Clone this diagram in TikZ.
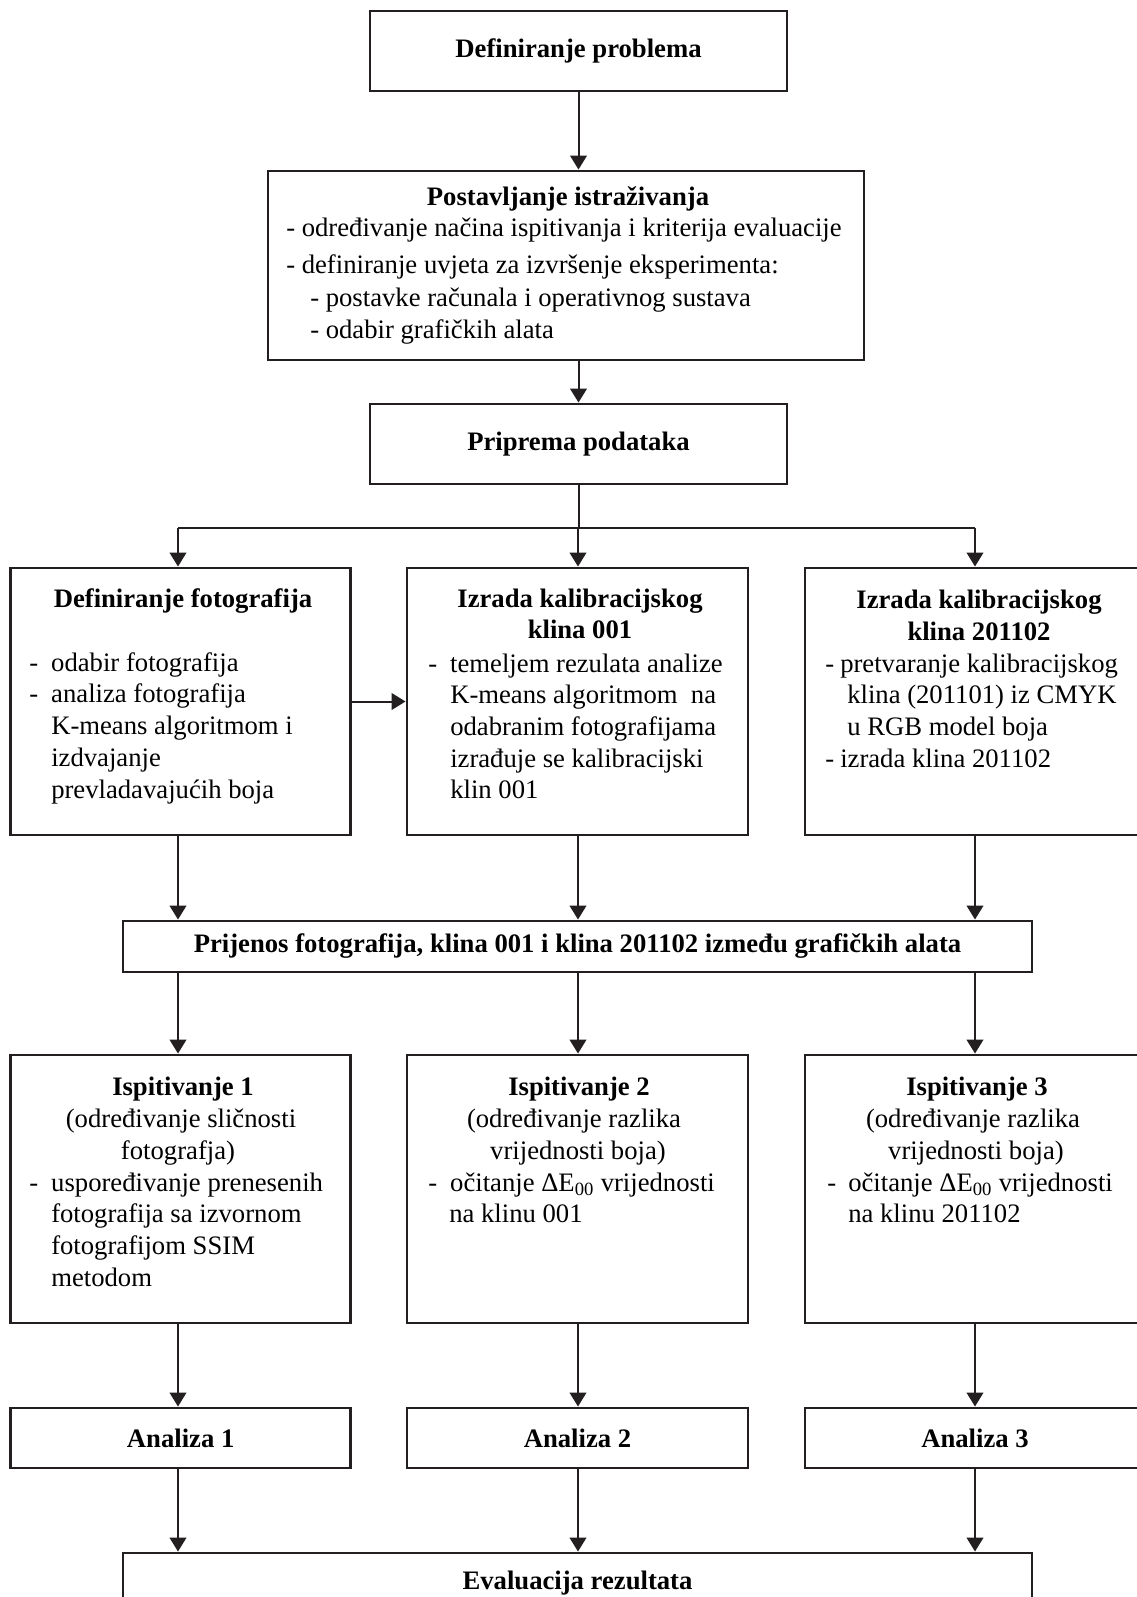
\documentclass[tikz,border=0pt]{standalone}
\usepackage{fontspec}
\setmainfont{Liberation Serif}
\usetikzlibrary{arrows.meta}
\definecolor{ink}{RGB}{35,31,32}
\tikzset{
  box/.style={draw=ink, line width=2.2pt, rectangle, inner sep=0pt, fill=white,
    font=\fontsize{20}{24}\selectfont\bfseries},
  conn/.style={draw=ink, line width=1.5pt},
  arr/.style={conn, -{Triangle[length=10.5pt,width=12.5pt]}},
  txt/.style={inner sep=0pt, font=\fontsize{20}{24}\selectfont, text=black},
  ttl/.style={inner sep=0pt, font=\fontsize{20}{24}\selectfont\bfseries, text=black},
}
\newcommand\txl[4]{\node[txt,anchor=base west] (#1) at (#2,#3) {#4};}
\newcommand\txc[4]{\node[txt,anchor=base] (#1) at (#2,#3) {#4};}
\newcommand\ttc[4]{\node[ttl,anchor=base] (#1) at (#2,#3) {#4};}
\newcommand\dsh[1]{\makebox[#1][l]{-}}
\begin{document}
\begin{tikzpicture}[x=0.75pt,y=-0.75pt]
\useasboundingbox (0,0) rectangle (1137,1597);
\clip (0,0) rectangle (1137,1597);
\fill[white] (0,0) rectangle (1137,1597);

% boxes
\node[box, minimum width=312.75pt, minimum height=60pt] (b1) at (578.5,51) {Definiranje problema};
\node[box, minimum width=447pt, minimum height=141.75pt] (b2) at (566,265.5) {};
\node[box, minimum width=312.75pt, minimum height=60pt] (b3) at (578.5,444) {Priprema podataka};

\node[box, minimum width=255pt, minimum height=200.25pt] (c1) at (180.7,701.5) {};
\node[box, minimum width=255.75pt, minimum height=200.25pt] (c2) at (577.5,701.5) {};
\node[box, minimum width=255pt, minimum height=200.25pt] (c3) at (975,701.5) {};

\node[box, minimum width=681.75pt, minimum height=38.25pt] (p) at (577.5,946.5) {Prijenos fotografija, klina 001 i klina 201102 između grafičkih alata};

\node[box, minimum width=255pt, minimum height=201pt] (d1) at (180.7,1189) {};
\node[box, minimum width=255.75pt, minimum height=201pt] (d2) at (577.5,1189) {};
\node[box, minimum width=255pt, minimum height=201pt] (d3) at (975,1189) {};

\node[box, minimum width=255pt, minimum height=45pt] (a1) at (180.7,1438) {Analiza 1};
\node[box, minimum width=255.75pt, minimum height=45pt] (a2) at (577.5,1438) {Analiza 2};
\node[box, minimum width=255pt, minimum height=45pt] (a3) at (975,1438) {Analiza 3};

\node[box, minimum width=681.75pt, minimum height=45pt] (e) at (577.5,1583) {Evaluacija rezultata};

% text of box b2
\ttc{b2t}{568}{205}{Postavljanje istraživanja}
\txl{b2a}{286}{236}{- određivanje načina ispitivanja i kriterija evaluacije}
\txl{b2b}{286}{273}{- definiranje uvjeta za izvršenje eksperimenta:}
\txl{b2c}{310}{306}{- postavke računala i operativnog sustava}
\txl{b2d}{310}{338}{- odabir grafičkih alata}

% text of c1
\ttc{c1t}{183}{607}{Definiranje fotografija}
\txl{c1a}{29}{671}{\dsh{16.5pt}odabir fotografija}
\txl{c1b}{29}{702}{\dsh{16.5pt}analiza fotografija}
\txl{c1c}{51}{734}{K-means algoritmom i}
\txl{c1d}{51}{766}{izdvajanje}
\txl{c1e}{51}{798}{prevladavajućih boja}

% text of c2
\ttc{c2t}{580}{607}{Izrada kalibracijskog}
\ttc{c2u}{580}{638}{klina 001}
\txl{c2a}{428}{672}{\dsh{16.5pt}temeljem rezulata analize}
\txl{c2b}{450}{703}{K-means algoritmom\ \ na}
\txl{c2c}{450}{735}{odabranim fotografijama}
\txl{c2d}{450}{767}{izrađuje se kalibracijski}
\txl{c2e}{450}{798}{klin 001}

% text of c3
\ttc{c3t}{979}{608}{Izrada kalibracijskog}
\ttc{c3u}{979}{640}{klina 201102}
\txl{c3a}{825}{672}{\dsh{11.25pt}pretvaranje kalibracijskog}
\txl{c3b}{847}{703}{klina (201101) iz CMYK}
\txl{c3c}{847}{735}{u RGB model boja}
\txl{c3d}{825}{767}{\dsh{11.25pt}izrada klina 201102}

% text of d1
\ttc{d1t}{183}{1095}{Ispitivanje 1}
\txc{d1u}{181}{1127}{(određivanje sličnosti}
\txc{d1v}{178}{1159}{fotografja)}
\txl{d1a}{29}{1191}{\dsh{16.5pt}uspoređivanje prenesenih}
\txl{d1b}{51}{1222}{fotografija sa izvornom}
\txl{d1c}{51}{1254}{fotografijom SSIM}
\txl{d1d}{51}{1286}{metodom}

% text of d2
\ttc{d2t}{579}{1095}{Ispitivanje 2}
\txc{d2u}{574}{1127}{(određivanje razlika}
\txc{d2v}{578}{1159}{vrijednosti boja)}
\txl{d2a}{428}{1191}{\dsh{16.5pt}očitanje ΔE\textsubscript{00} vrijednosti}
\txl{d2b}{449}{1222}{na klinu 001}

% text of d3
\ttc{d3t}{977}{1095}{Ispitivanje 3}
\txc{d3u}{973}{1127}{(određivanje razlika}
\txc{d3v}{976}{1159}{vrijednosti boja)}
\txl{d3a}{827}{1191}{\dsh{15.75pt}očitanje ΔE\textsubscript{00} vrijednosti}
\txl{d3b}{848}{1222}{na klinu 201102}

% column coordinates
\coordinate (xL) at (178,528);
\coordinate (xM) at (578,528);
\coordinate (xR) at (975,528);

% connectors
\draw[arr] (b1.south) -- (b1.south |- b2.north);
\draw[arr] (b2.south -| b3.north) -- (b3.north);
\draw[conn] (b3.south) -- (b3.south |- xM);
\draw[conn] (xL) -- (xR);
\draw[arr] (xL) -- (xL |- c1.north);
\draw[arr] (xM) -- (xM |- c2.north);
\draw[arr] (xR) -- (xR |- c3.north);
\draw[arr] (c1.east) -- (c2.west);

\draw[arr] (xL |- c1.south) -- (xL |- p.north);
\draw[arr] (xM |- c2.south) -- (xM |- p.north);
\draw[arr] (xR |- c3.south) -- (xR |- p.north);

\draw[arr] (xL |- p.south) -- (xL |- d1.north);
\draw[arr] (xM |- p.south) -- (xM |- d2.north);
\draw[arr] (xR |- p.south) -- (xR |- d3.north);

\draw[arr] (xL |- d1.south) -- (xL |- a1.north);
\draw[arr] (xM |- d2.south) -- (xM |- a2.north);
\draw[arr] (xR |- d3.south) -- (xR |- a3.north);

\draw[arr] (xL |- a1.south) -- (xL |- e.north);
\draw[arr] (xM |- a2.south) -- (xM |- e.north);
\draw[arr] (xR |- a3.south) -- (xR |- e.north);
\end{tikzpicture}
\end{document}
